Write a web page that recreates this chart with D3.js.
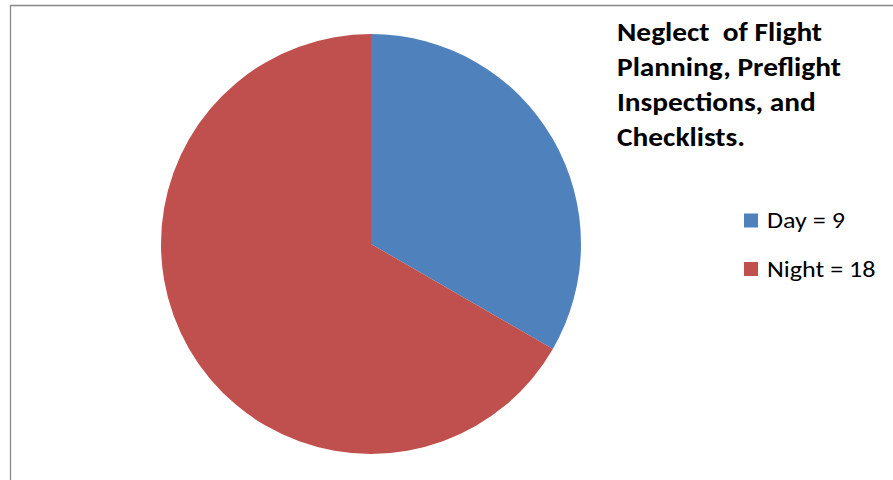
<!DOCTYPE html>
<html>
<head>
<meta charset="utf-8">
<script src="https://cdn.jsdelivr.net/npm/d3@7"></script>
<style>
  html, body { margin: 0; padding: 0; background: #fff; }
  svg { display: block; }
</style>
</head>
<body>
<svg id="chart" width="893" height="480"></svg>
<script>
// Accident counts by time of day
const categories = ["Day", "Night"];
const counts = [9, 18];
const colors = ["#4F81BD", "#C0504D"];
const titleLines = ["Neglect  of Flight", "Planning, Preflight", "Inspections, and", "Checklists."];

const svg = d3.select("#chart");
const font = "Carlito, Lato, 'Open Sans', sans-serif";

// chart area frame (top and left edges visible)
svg.append("path")
  .attr("d", "M10.5,480 V5.5 H893")
  .attr("fill", "none")
  .attr("stroke", "#878787")
  .attr("stroke-width", 1.3);

const cx = 371, cy = 244, r = 210;
const pie = d3.pie().sort(null).value(d => d.v);
const arc = d3.arc().innerRadius(0).outerRadius(r);
const data = categories.map((c, i) => ({ c, v: counts[i], color: colors[i] }));

svg.append("g")
  .attr("transform", `translate(${cx},${cy})`)
  .selectAll("path")
  .data(pie(data))
  .join("path")
  .attr("d", arc)
  .attr("fill", d => d.data.color);

// title, slightly wide-set
svg.append("text")
  .attr("transform", "translate(617,0) scale(1.13,1)")
  .attr("font-family", font)
  .attr("font-weight", "bold")
  .attr("font-size", 26)
  .attr("fill", "#000")
  .selectAll("tspan")
  .data(titleLines)
  .join("tspan")
  .attr("x", 0)
  .attr("y", (d, i) => 41 + i * 35)
  .style("white-space", "pre")
  .text(d => d);

// legend
const items = svg.append("g").selectAll("g")
  .data(data)
  .join("g")
  .attr("transform", (d, i) => `translate(744,${213.5 + i * 48.5})`);
items.append("rect")
  .attr("width", 14).attr("height", 14)
  .attr("fill", d => d.color);
items.append("text")
  .attr("transform", "translate(23,14.5) scale(1.12,1)")
  .attr("font-family", font)
  .attr("font-size", 23.3)
  .attr("fill", "#000")
  .text(d => `${d.c} = ${d.v}`);
</script>
</body>
</html>
